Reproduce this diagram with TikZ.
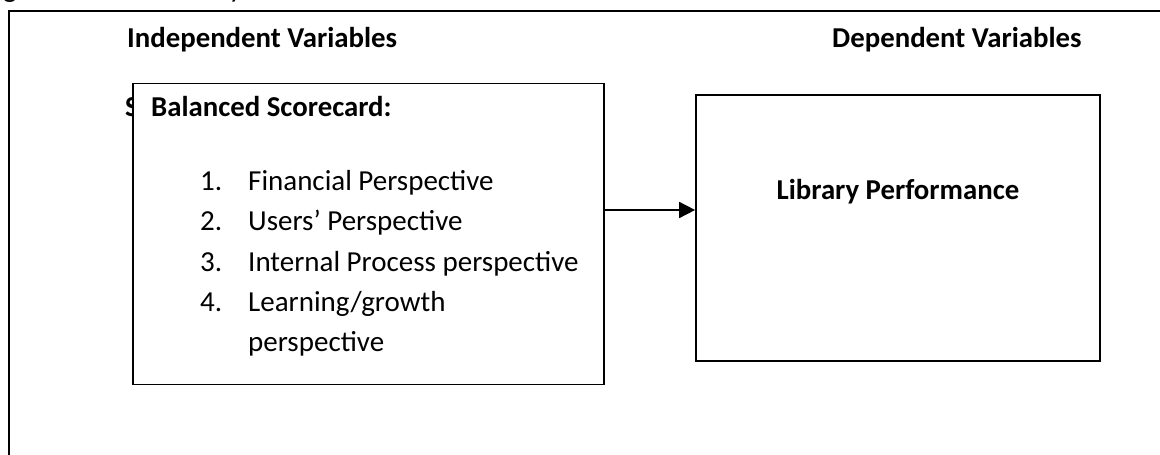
\documentclass[tikz,border=0pt]{standalone}
\usepackage{fontspec}
\setmainfont{Carlito}
\usetikzlibrary{arrows.meta}
\begin{document}
\begin{tikzpicture}[x=1pt,y=-1pt,
  frame/.style={line width=1.7pt},
  boxstyle/.style={draw,line width=1.7pt,fill=white},
  head/.style={font=\fontsize{28.8}{33}\selectfont\bfseries,inner sep=0pt},
  item/.style={font=\fontsize{29}{34}\selectfont,inner sep=0pt,anchor=base west},
  conn/.style={line width=1.7pt,-{Triangle[length=16pt,width=16pt]}}]
\useasboundingbox (0,0) rectangle (1160,455);
% clipped fragments of the line above
\begin{scope}
\clip (0,0) rectangle (1160,455);
\node[item] (fragg) at (3,-2) {g};
\node[item] (fragy) at (229,-2) {y};
\end{scope}
% outer frame (top and left edges visible)
\coordinate (ftr) at (1160,11);
\coordinate (ftl) at (9,11);
\coordinate (fbl) at (9,455);
\draw[frame] (ftr) -- (ftl) -- (fbl);
% headings
\node[head,anchor=west] (indep) at (127,40) {Independent Variables};
\node[head,anchor=west] (dep) at (832,40) {Dependent Variables};
% hidden text behind box
\node[head,anchor=west] (hidden) at (125,107) {S};
% left box
\node[boxstyle,minimum width=471pt,minimum height=301pt,inner sep=0pt] (bsc) at (368.5,234) {};
\node[head,anchor=west] (bsctitle) at (151,107) {Balanced Scorecard:};
\node[item] (n1) at (200,190) {1.};
\node[item] (t1) at (248,190) {Financial Perspective};
\node[item] (n2) at (200,230) {2.};
\node[item] (t2) at (248,230) {Users’ Perspective};
\node[item] (n3) at (200,271) {3.};
\node[item] (t3) at (248,271) {Internal Process perspective};
\node[item] (n4) at (200,311) {4.};
\node[item] (t4) at (248,311) {Learning/growth};
\node[item] (t5) at (248,351) {perspective};
% right box
\node[boxstyle,minimum width=404pt,minimum height=266pt,inner sep=0pt] (lp) at (898,228) {};
\node[head] (lptext) at (898,192) {Library Performance};
% connector
\draw[conn] (bsc.east |- 0,210) -- (lp.west |- 0,210);
\end{tikzpicture}
\end{document}
